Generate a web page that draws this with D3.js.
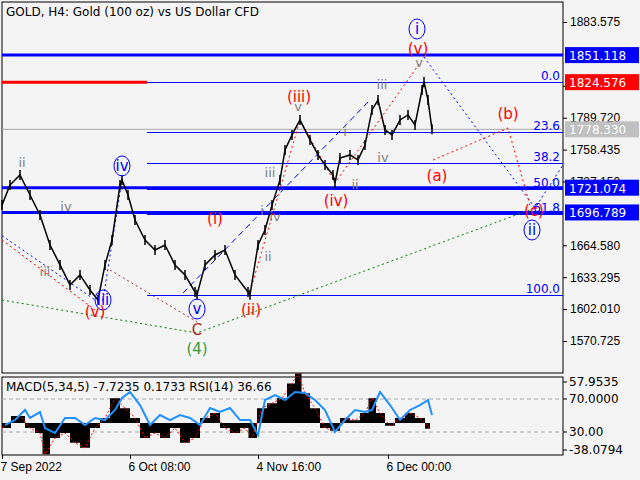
<!DOCTYPE html><html><head><meta charset="utf-8">
<script src="https://cdn.jsdelivr.net/npm/d3@7"></script>
<style>body{margin:0;background:#fff}svg{font-family:"DejaVu Sans",sans-serif}</style></head><body>
<svg id="c" width="640" height="480"></svg>
<script>
const bars=[0,8,18,28,38,48,58,68,78,88,96,103,110,118,120,126,133,143,153,163,173,183,193,195,203,213,223,233,246,248,256,263,270,278,283,290,298,308,316,323,331,333,338,348,356,363,370,376,383,390,398,406,413,420,422,426,430];
const closes=[1704,1723.7,1733.5,1713.9,1694.3,1664.9,1645.3,1625.7,1635.5,1620.8,1611,1645.3,1669.8,1723.7,1728.6,1713.9,1689.4,1669.8,1660,1664.9,1645.3,1635.5,1618.8,1616,1645.3,1655.1,1660,1635.5,1618.8,1616,1664.9,1679.6,1704,1728.6,1758,1772.8,1787.5,1767.9,1753.2,1743.4,1733.5,1725.7,1750.2,1753.2,1748.3,1763,1797.3,1807.1,1777.7,1772.8,1787.5,1792.4,1782.6,1816.9,1824.8,1807.1,1778.3];
const priceTicks=[1883.575,1821.005,1789.720,1758.435,1727.150,1664.580,1633.295,1602.010,1570.725];
const dateBars=[0,128,256,386];
const dateLabels=["7 Sep 2022","6 Oct 08:00","4 Nov 16:00","6 Dec 00:00"];
const levels=[1851.118,1824.576,1721.074,1696.789];
const levelColors=["#0000ff","#ff0000","#0000ff","#0000ff"];
const fibNames=["0.0","23.6","38.2","50.0","61.8","100.0"];
const fibRatios=[0,0.236,0.382,0.5,0.618,1];
const fibHigh=1824.576, fibLow=1615.8, fibStartBar=145;
const currentPrice=1778.330;
const waveText=["i","(v)","v","iii","(iii)","v","i","iv","ii","(iv)","iii","iv","i","(i)","ii","(ii)","v","C","(4)","ii","iv","iv","iii","iii","(v)","(a)","(b)","(c)","ii"];
const waveBar=[415,416,417,380,297,296,343,381,353,334,268,273,260,213,266,249,195,195,195,20,120,64,43,101,93,435,506,532,530];
const wavePrice=[1876.7,1857.1,1844.3,1822.8,1810,1801.2,1776.7,1751.2,1724.7,1708,1736.5,1693.3,1699.2,1690.4,1654.1,1601.1,1602.1,1581.5,1562.9,1746.3,1742.4,1703.1,1639.4,1611,1599.2,1732.5,1793.3,1698.2,1679.6];
const waveKind=["bc","r","g","g","r","g","g","g","g","r","g","g","g","r","g","r","bc","br","gr","g","bc","g","g","bc","r","r","r","r","bc"];
const paths=[
 {c:"#0000ff",d:"2,3",b:[422,533,561],p:[1849.2,1701.2,1743.4]},
 {c:"#ff0000",d:"2,3",b:[431,506,528],p:[1748.2,1779.6,1704.1]},
 {c:"#008000",d:"2,3",b:[0,195,533],p:[1610.9,1578.6,1701.2]},
 {c:"#ff0000",d:"2,3",b:[248,298,333,422],p:[1618.8,1787.5,1725.7,1849.2]},
 {c:"#0000ff",d:"6,4",b:[181,368],p:[1617.8,1807.1]},
 {c:"#ff0000",d:"2,3",b:[0,93],p:[1669.8,1601.1]},
 {c:"#a52a2a",d:"2,3",b:[108,195],p:[1640.4,1589.4]},
 {c:"#0000ff",d:"2,3",b:[0,93,101,120],p:[1674,1611,1611,1728.6]}
];
const macdBars=[0,18,28,38,43,53,63,73,83,93,103,113,123,133,143,153,163,173,183,193,203,213,223,233,243,250,260,270,280,290,296,303,313,323,333,343,353,363,370,378,388,398,408,418,428];
const macd=[-7,10,-7,-14,-44,-21,-14,-28,-35,-7,7,35,21,7,-21,-14,-21,-7,-28,-21,7,14,-7,-14,-7,-21,21,28,35,56,70,42,21,-7,-11,7,4,14,35,14,-4,7,14,7,-8];
const rsiBars=[3,13,23,28,38,43,53,63,73,83,93,103,113,120,128,138,148,158,168,178,188,198,208,218,228,238,248,256,263,273,283,293,303,313,323,333,343,353,363,370,378,388,398,408,418,426,430];
const rsi=[38.5,44.5,56.7,47,54.2,34.8,28.8,47,47,38.5,47,44.5,56.7,71.2,78.5,62.7,38.5,50.6,44.5,50.6,47,38.5,59.1,54.2,59.1,44.5,44.5,26.4,68.8,74.8,68.8,78.5,77.3,68.8,56.7,30,44.5,56.7,54.2,56.7,78.5,62.7,44.5,56.7,62.7,68.8,50.6,30];

const svg=d3.select("#c");
const L=2,R=563,T=2,B=373,T2=377,B2=455;
svg.append("rect").attr("width",640).attr("height",480).attr("fill","#f4f4f4");
svg.append("rect").attr("x",L).attr("y",T).attr("width",R-L).attr("height",B-T).attr("fill","#f4f4f4").attr("stroke","#000");
svg.append("rect").attr("x",L).attr("y",T2).attr("width",R-L).attr("height",B2-T2).attr("fill","#f4f4f4").attr("stroke","#000");
const x=d3.scaleLinear().domain([0,430]).range([2,432]);
const y=d3.scaleLinear().domain([1570.725,1883.575]).range([341,22]);
const main=svg.append("g");
const ya=svg.append("g").attr("transform",`translate(${R},0)`).call(d3.axisRight(y).tickValues(priceTicks).tickSize(4).tickFormat(d3.format(".3f")));
ya.select(".domain").remove();
ya.selectAll("text").attr("font-size",12).attr("fill","#000");
ya.selectAll("line").attr("stroke","#000");
main.append("line").attr("x1",L).attr("x2",R).attr("y1",y(currentPrice)).attr("y2",y(currentPrice)).attr("stroke","#aaa");
fibRatios.forEach((r,i)=>{const p=fibHigh-(fibHigh-fibLow)*r;const py=Math.round(y(p))+0.5;
 main.append("line").attr("x1",x(fibStartBar)).attr("x2",R).attr("y1",py).attr("y2",py).attr("stroke","#0000ff").attr("stroke-width",1);
 main.append("text").attr("x",R-3).attr("y",py-3).attr("text-anchor","end").attr("font-size",12).attr("fill","#0000ff").text(fibNames[i]);});
levels.forEach((v,i)=>{
 if(i===1){main.append("line").attr("x1",L).attr("x2",x(fibStartBar)).attr("y1",y(v)).attr("y2",y(v)).attr("stroke","#ff0000").attr("stroke-width",3);}
 else main.append("line").attr("x1",L).attr("x2",R).attr("y1",y(v)).attr("y2",y(v)).attr("stroke","#0000ff").attr("stroke-width",3);
});
const ln=d3.line();
paths.forEach(pa=>main.append("path").attr("d",ln(pa.b.map((b,i)=>[x(b),y(pa.p[i])]))).attr("fill","none").attr("stroke",pa.c).attr("stroke-dasharray",pa.d));
main.append("path").attr("d",d3.line().x((d,i)=>x(bars[i])).y(d=>y(d))(closes)).attr("fill","none").attr("stroke","#000").attr("stroke-width",1.5);
bars.forEach((b,i)=>main.append("line").attr("x1",x(b)).attr("x2",x(b)).attr("y1",y(closes[i])-5).attr("y2",y(closes[i])+5).attr("stroke","#000").attr("stroke-width",1.5));
const kc={r:"#ff0000",g:"#808080",bc:"#0000ff",br:"#a52a2a",gr:"#3a9a3a"};
waveText.forEach((t,i)=>{const k=waveKind[i],cx=x(waveBar[i]),cy=y(wavePrice[i]);
 if(k==="bc")main.append("ellipse").attr("cx",cx).attr("cy",cy).attr("rx",8).attr("ry",10).attr("fill","none").attr("stroke","#0000ff");
 main.append("text").attr("x",cx).attr("y",cy+5).attr("text-anchor","middle").attr("font-size",k==="g"?13:15).attr("fill",kc[k]).text(t);});
levels.forEach((v,i)=>{const g=svg.append("g");g.append("rect").attr("x",R+2).attr("y",y(v)-8).attr("width",74).attr("height",16).attr("fill",levelColors[i]);
 g.append("text").attr("x",R+6).attr("y",y(v)+5).attr("font-size",12).attr("fill","#fff").text(v.toFixed(3));});
svg.append("rect").attr("x",R+2).attr("y",y(currentPrice)-8).attr("width",74).attr("height",16).attr("fill","#c0c0c0");
svg.append("text").attr("x",R+6).attr("y",y(currentPrice)+5).attr("font-size",12).attr("fill","#fff").text(currentPrice.toFixed(3));
svg.append("text").attr("x",6).attr("y",16).attr("font-size",12).text("GOLD, H4:  Gold (100 oz) vs US Dollar CFD");
const ym=d3.scaleLinear().domain([-38.0794,57.9535]).range([450,382]);
const yr=d3.scaleLinear().domain([30,70]).range([432,399]);
const lo=svg.append("g");
[70,30].forEach(v=>lo.append("line").attr("x1",L).attr("x2",R).attr("y1",yr(v)).attr("y2",yr(v)).attr("stroke","#aaa").attr("stroke-dasharray","4,3"));
lo.append("path").attr("d",d3.area().x((d,i)=>x(macdBars[i])).y0(ym(0)).y1(d=>ym(d)).curve(d3.curveStep)(macd)).attr("fill","#000");
lo.append("path").attr("d",d3.line().x((d,i)=>x(macdBars[i])).y(d=>ym(d))(macd)).attr("fill","none").attr("stroke","#ff0000").attr("stroke-dasharray","2,2");
lo.append("path").attr("d",d3.line().x((d,i)=>x(rsiBars[i])).y(d=>yr(d))(rsi)).attr("fill","none").attr("stroke","#1e90ff").attr("stroke-width",2);
lo.append("text").attr("x",6).attr("y",391).attr("font-size",12).text("MACD(5,34,5) -7.7235 0.1733 RSI(14) 36.66");
const lt=[[57.9535,ym(57.9535)],[70,yr(70)],[30,yr(30)],[-38.0794,ym(-38.0794)]];
lt.forEach(([v,py])=>{svg.append("line").attr("x1",R).attr("x2",R+4).attr("y1",py).attr("y2",py).attr("stroke","#000");
 svg.append("text").attr("x",R+6).attr("y",py+4).attr("font-size",12).text(Math.abs(v)>=50||v<0?v.toFixed(4):v.toFixed(2));});
const xa=svg.append("g").attr("transform",`translate(0,${B2})`).call(d3.axisBottom(x).tickValues(dateBars).tickSize(4).tickFormat((d,i)=>dateLabels[i]));
xa.select(".domain").remove();
xa.selectAll("text").attr("font-size",12).attr("fill","#000").attr("text-anchor","start").attr("dx",-2);
</script></body></html>
